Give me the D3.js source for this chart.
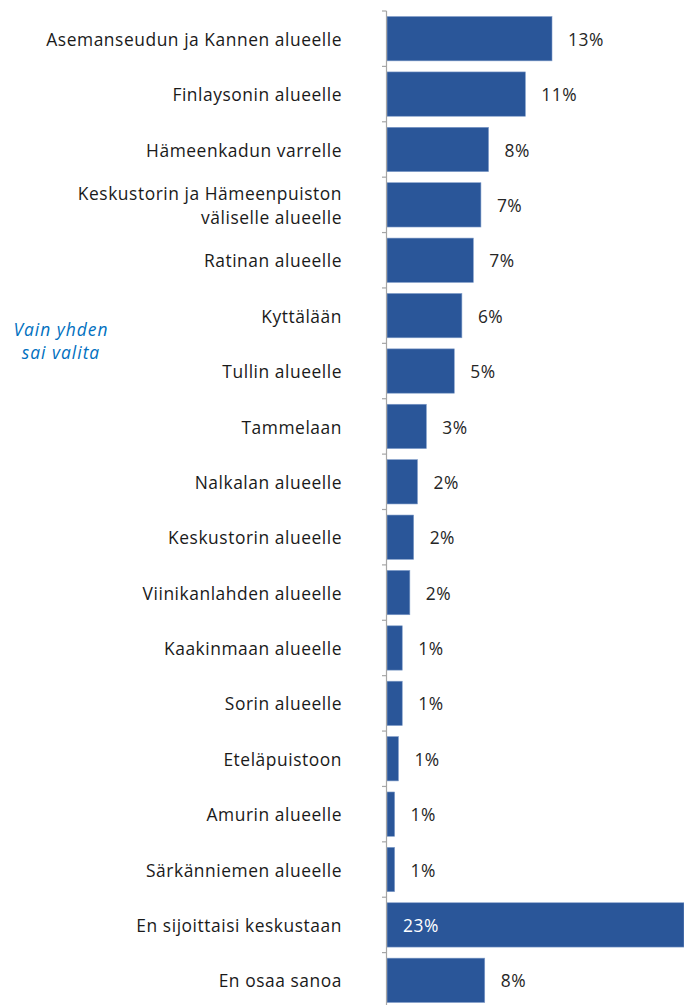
<!DOCTYPE html>
<html lang="fi">
<head>
<meta charset="UTF-8">
<title>Sijoitus</title>
<script src="https://d3js.org/d3.v7.min.js"></script>
<style>
  body { margin: 0; background: #fff; }
  text { font-family: "Open Sans", "Noto Sans", sans-serif; }
  .cat { font-size: 17.4px; letter-spacing: 0.55px; fill: #1a1a1a; }
  .val { font-size: 17.4px; letter-spacing: 0.5px; fill: #262626; }
  .note { font-size: 17.4px; letter-spacing: 1px; font-style: italic; fill: #0070c0; }
</style>
</head>
<body>
<div id="chart"></div>
<script>
var categories = [
  "Asemanseudun ja Kannen alueelle",
  "Finlaysonin alueelle",
  "Hämeenkadun varrelle",
  "Keskustorin ja Hämeenpuiston\nväliselle alueelle",
  "Ratinan alueelle",
  "Kyttälään",
  "Tullin alueelle",
  "Tammelaan",
  "Nalkalan alueelle",
  "Keskustorin alueelle",
  "Viinikanlahden alueelle",
  "Kaakinmaan alueelle",
  "Sorin alueelle",
  "Eteläpuistoon",
  "Amurin alueelle",
  "Särkänniemen alueelle",
  "En sijoittaisi keskustaan",
  "En osaa sanoa"
];
var values = [13.0, 10.9, 8.0, 7.4, 6.8, 5.9, 5.3, 3.1, 2.4, 2.1, 1.8, 1.2, 1.2, 0.9, 0.6, 0.6, 23.4, 7.7];
var note = ["Vain yhden", "sai valita"];

var width = 684, height = 1005;
var data = categories.map(function(c, i) { return { name: c, value: values[i] }; });

var svg = d3.select("#chart").append("svg")
    .attr("width", width)
    .attr("height", height);

var x = d3.scaleLinear().domain([0, 23.4]).range([387, 684]);
var y = d3.scaleBand()
    .domain(categories)
    .range([11, 1008])
    .paddingInner(0.2)
    .paddingOuter(0.1);

// bars
svg.selectAll(".bar")
  .data(data)
  .enter().append("rect")
    .attr("class", "bar")
    .attr("x", x(0))
    .attr("y", function(d) { return y(d.name); })
    .attr("width", function(d) { return x(d.value) - x(0); })
    .attr("height", y.bandwidth())
    .attr("fill", "#2a5699")
    .attr("stroke", "#7f9cc8")
    .attr("stroke-width", 0.6);

// axis line with ticks between the bands
var step = y.step();
var bounds = categories.map(function(c) { return y(c) - step * 0.1; });
bounds.push(y(categories[categories.length - 1]) + y.bandwidth() + step * 0.1);

var axis = svg.append("g").attr("class", "axis");
axis.append("line")
    .attr("x1", x(0) - 0.5).attr("x2", x(0) - 0.5)
    .attr("y1", bounds[0]).attr("y2", height)
    .attr("stroke", "#a6a6a6").attr("stroke-width", 1.2);
axis.selectAll(".tick")
  .data(bounds)
  .enter().append("line")
    .attr("x1", x(0) - 5).attr("x2", x(0) - 0.5)
    .attr("y1", function(d) { return d; })
    .attr("y2", function(d) { return d; })
    .attr("stroke", "#a6a6a6").attr("stroke-width", 1.2);

// category labels
var cat = svg.selectAll(".cat")
  .data(data)
  .enter().append("text")
    .attr("class", "cat")
    .attr("text-anchor", "end");

cat.selectAll("tspan")
  .data(function(d) {
    var lines = d.name.split("\n");
    return lines.map(function(l, i) { return { text: l, i: i, n: lines.length, d: d }; });
  })
  .enter().append("tspan")
    .attr("x", 342)
    .attr("y", function(t) {
      return y(t.d.name) + y.bandwidth() / 2 + 1 + (t.i - (t.n - 1) / 2) * 24;
    })
    .attr("dy", "0.35em")
    .text(function(t) { return t.text; });

// value labels
svg.selectAll(".val")
  .data(data)
  .enter().append("text")
    .attr("class", "val")
    .attr("x", function(d) { return d.value > 20 ? x(0) + 16 : x(d.value) + 16; })
    .attr("y", function(d) { return y(d.name) + y.bandwidth() / 2 + 1; })
    .attr("dy", "0.35em")
    .style("fill", function(d) { return d.value > 20 ? "#ffffff" : null; })
    .text(function(d) { return Math.round(d.value) + "%"; });

// note
svg.append("text")
    .attr("class", "note")
    .attr("text-anchor", "middle")
  .selectAll("tspan")
  .data(note)
  .enter().append("tspan")
    .attr("x", 61)
    .attr("y", function(d, i) { return 330 + i * 23; })
    .attr("dy", "0.35em")
    .text(function(d) { return d; });
</script>
</body>
</html>
